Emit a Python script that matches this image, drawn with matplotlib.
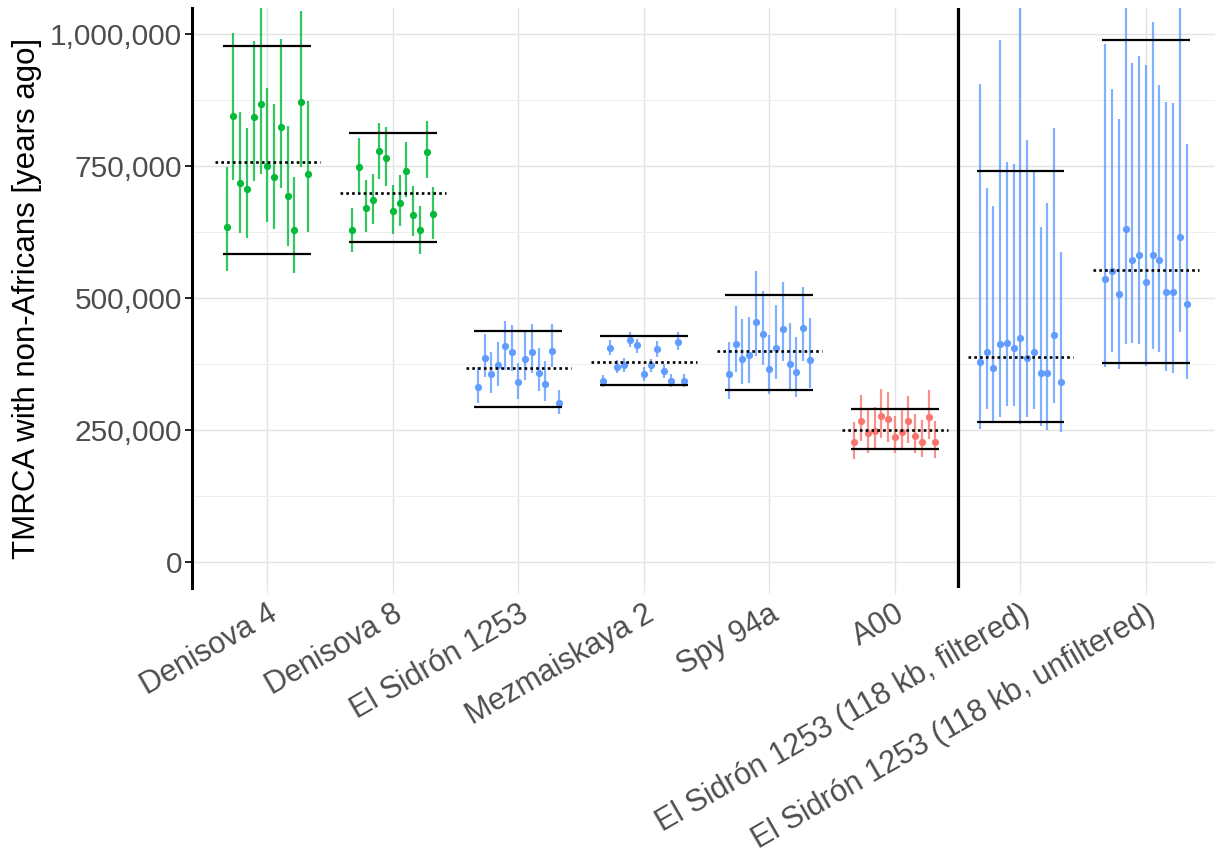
import numpy as np
import matplotlib.pyplot as plt
from matplotlib.ticker import FuncFormatter, MultipleLocator

plt.rcParams['font.family'] = ['Liberation Sans', 'DejaVu Sans']

samples = ["Denisova 4", "Denisova 8", "El Sidrón 1253", "Mezmaiskaya 2", "Spy 94a", "A00",
           "El Sidrón 1253 (118 kb, filtered)", "El Sidrón 1253 (118 kb, unfiltered)"]
colors = ["#00BA38", "#00BA38", "#619CFF", "#619CFF", "#619CFF", "#F8766D", "#619CFF", "#619CFF"]

# TMRCA estimates (years ago), one per point, with 95% CI
tmrca = [
    [634e3, 846e3, 719e3, 706e3, 844e3, 867e3, 750e3, 729e3, 824e3, 694e3, 628e3, 871e3, 736e3],
    [628e3, 748e3, 671e3, 686e3, 778e3, 765e3, 665e3, 681e3, 740e3, 658e3, 628e3, 776e3, 660e3],
    [332e3, 386e3, 355e3, 372e3, 409e3, 398e3, 340e3, 384e3, 398e3, 358e3, 336e3, 400e3, 300e3],
    [342e3, 405e3, 370e3, 372e3, 421e3, 410e3, 355e3, 372e3, 403e3, 361e3, 343e3, 417e3, 343e3],
    [356e3, 413e3, 385e3, 391e3, 455e3, 431e3, 366e3, 406e3, 441e3, 375e3, 360e3, 444e3, 383e3],
    [226e3, 266e3, 244e3, 247e3, 276e3, 270e3, 236e3, 246e3, 266e3, 238e3, 227e3, 274e3, 226e3],
    [378e3, 398e3, 367e3, 412e3, 414e3, 405e3, 424e3, 386e3, 398e3, 357e3, 357e3, 430e3, 340e3],
    [536e3, 552e3, 507e3, 631e3, 572e3, 582e3, 530e3, 582e3, 572e3, 512e3, 511e3, 616e3, 488e3],
]
ci_low = [
    [552e3, 723e3, 624e3, 613e3, 721e3, 736e3, 645e3, 630e3, 708e3, 598e3, 548e3, 748e3, 626e3],
    [587e3, 701e3, 626e3, 641e3, 725e3, 712e3, 622e3, 636e3, 692e3, 617e3, 583e3, 727e3, 612e3],
    [300e3, 350e3, 320e3, 333e3, 364e3, 361e3, 309e3, 344e3, 358e3, 323e3, 304e3, 369e3, 280e3],
    [331e3, 391e3, 357e3, 359e3, 407e3, 396e3, 342e3, 359e3, 389e3, 348e3, 331e3, 401e3, 331e3],
    [309e3, 359e3, 337e3, 339e3, 390e3, 373e3, 318e3, 347e3, 380e3, 328e3, 313e3, 381e3, 329e3],
    [194e3, 228e3, 206e3, 214e3, 235e3, 227e3, 206e3, 212e3, 225e3, 206e3, 199e3, 232e3, 197e3],
    [252e3, 290e3, 266e3, 275e3, 296e3, 295e3, 261e3, 274e3, 290e3, 258e3, 250e3, 301e3, 245e3],
    [369e3, 398e3, 366e3, 412e3, 414e3, 413e3, 371e3, 404e3, 398e3, 362e3, 357e3, 435e3, 347e3],
]
ci_high = [
    [748e3, 1002e3, 852e3, 823e3, 988e3, 1080e3, 898e3, 867e3, 992e3, 827e3, 729e3, 1044e3, 873e3],
    [670e3, 803e3, 724e3, 736e3, 832e3, 825e3, 715e3, 733e3, 795e3, 712e3, 674e3, 836e3, 710e3],
    [369e3, 432e3, 397e3, 416e3, 457e3, 448e3, 377e3, 437e3, 451e3, 405e3, 381e3, 451e3, 326e3],
    [354e3, 421e3, 382e3, 386e3, 436e3, 423e3, 369e3, 385e3, 419e3, 374e3, 355e3, 435e3, 355e3],
    [417e3, 484e3, 461e3, 463e3, 552e3, 514e3, 429e3, 486e3, 530e3, 453e3, 426e3, 520e3, 462e3],
    [265e3, 316e3, 287e3, 294e3, 328e3, 322e3, 276e3, 288e3, 314e3, 280e3, 268e3, 326e3, 267e3],
    [905e3, 708e3, 674e3, 989e3, 758e3, 755e3, 1100e3, 799e3, 743e3, 634e3, 681e3, 822e3, 588e3],
    [982e3, 896e3, 839e3, 1100e3, 946e3, 959e3, 942e3, 1024e3, 903e3, 871e3, 870e3, 1100e3, 792e3],
]
# summary lines: lower / mean / upper
summary_low = [584e3, 606e3, 293e3, 335e3, 326e3, 213e3, 264e3, 377e3]
summary_mean = [757e3, 700e3, 367e3, 378e3, 400e3, 249e3, 389e3, 553e3]
summary_high = [977e3, 813e3, 438e3, 428e3, 505e3, 290e3, 741e3, 989e3]

fig = plt.figure(figsize=(12.15, 8.58), dpi=100)
ax = fig.add_axes([0.158, 0.3147, 0.842, 0.676])

offsets = np.linspace(-0.323, 0.323, 13)
for i, name in enumerate(samples):
    pos = i + 1
    xs = pos + offsets
    ax.vlines(xs, ci_low[i], ci_high[i], color=colors[i], lw=1.6, alpha=0.8, zorder=3)
    ax.plot(xs, tmrca[i], 'o', color=colors[i], ms=5.2, mec='none', zorder=4)
    ax.hlines([summary_low[i], summary_high[i]], pos - 0.35, pos + 0.35, color='black', lw=1.6, zorder=5)
    ax.hlines(summary_mean[i], pos - 0.42, pos + 0.42, color='black', lw=1.9,
              linestyles=(0, (1, 1.2)), zorder=5)

ax.axvline(6.5, color='black', lw=2.3, zorder=6)

ax.set_xlim(0.4, 8.55)
ax.set_ylim(-50000, 1050000)
ax.set_xticks(range(1, len(samples) + 1))
ax.set_xticklabels(samples, rotation=30, ha='right', va='top', rotation_mode='anchor',
                   fontsize=22, color='#4D4D4D')
ax.yaxis.set_major_locator(MultipleLocator(250000))
ax.yaxis.set_minor_locator(MultipleLocator(125000))
ax.yaxis.set_major_formatter(FuncFormatter(lambda v, p: f"{int(v):,}"))
ax.tick_params(axis='y', labelsize=21.5, labelcolor='#4D4D4D', length=5, width=1.2, color='black', pad=2)
ax.tick_params(axis='y', which='minor', length=0)
ax.tick_params(axis='x', length=4, color='#E5E5E5', pad=4)

ax.grid(True, which='major', color='#E3E3E3', lw=1.0)
ax.grid(True, which='minor', axis='y', color='#EEEEEE', lw=0.7)
ax.set_axisbelow(True)

for s in ['top', 'right', 'bottom']:
    ax.spines[s].set_visible(False)
ax.spines['left'].set_linewidth(2.2)
ax.spines['left'].set_color('black')

ax.set_ylabel("TMRCA with non-Africans [years ago]", fontsize=22.5, color='black', labelpad=6)

fig.savefig("out.png", dpi=100)
